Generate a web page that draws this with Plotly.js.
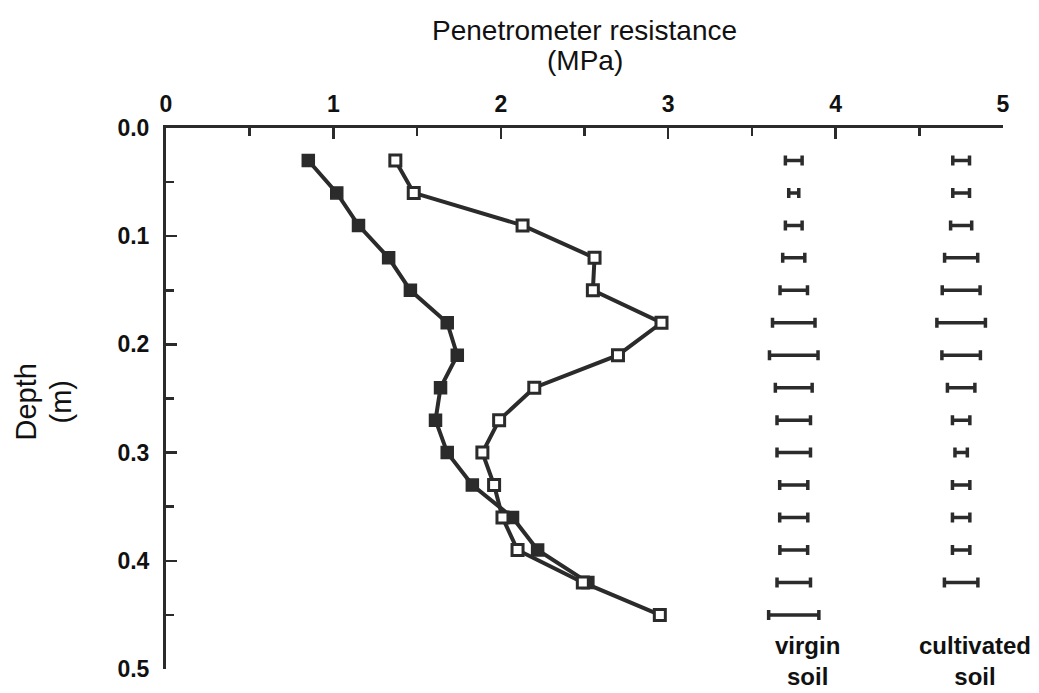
<!DOCTYPE html>
<html>
<head>
<meta charset="utf-8">
<script src="https://cdn.plot.ly/plotly-3.0.1.min.js"></script>
<style>html,body{margin:0;padding:0;background:#fff;}#chart{width:1039px;height:693px;}</style>
</head>
<body>
<div id="chart"></div>
<script>
// Depth (m)
const depthVirgin = [0.03,0.06,0.09,0.12,0.15,0.18,0.21,0.24,0.27,0.30,0.33,0.36,0.39,0.42,0.45];
const depthCultivated = [0.03,0.06,0.09,0.12,0.15,0.18,0.21,0.24,0.27,0.30,0.33,0.36,0.39,0.42];
// Penetrometer resistance (MPa)
const resistanceVirgin = [1.37,1.48,2.13,2.56,2.55,2.96,2.70,2.20,1.99,1.89,1.96,2.01,2.10,2.49,2.95];
const resistanceCultivated = [0.85,1.02,1.15,1.33,1.46,1.68,1.74,1.64,1.61,1.68,1.83,2.07,2.22,2.52];
// Error bar half-widths (MPa)
const errVirgin = [0.05,0.03,0.05,0.066,0.082,0.127,0.145,0.11,0.10,0.10,0.084,0.084,0.083,0.10,0.15];
const errCultivated = [0.05,0.05,0.063,0.099,0.113,0.145,0.115,0.082,0.052,0.037,0.052,0.052,0.052,0.10];
const xTickVals = [0,1,2,3,4,5];
const yTickVals = [0.0,0.1,0.2,0.3,0.4,0.5];
const yTickText = ['0.0','0.1','0.2','0.3','0.4','0.5'];
const errLabels = ['virgin<br>soil','cultivated<br>soil'];
const xTitleLines = ['Penetrometer resistance','(MPa)'];
const yTitleLines = ['Depth','(m)'];
const errColumnX = [3.75, 4.75];

const ink = '#2b2b2b';
const font = 'Liberation Sans, Arial, Helvetica, sans-serif';

const traces = [
  {x: resistanceCultivated, y: depthCultivated, mode: 'lines+markers', type: 'scatter',
   line: {color: ink, width: 4},
   marker: {symbol: 'square', size: 12, color: ink, line: {color: ink, width: 1.5}}},
  {x: resistanceVirgin, y: depthVirgin, mode: 'lines+markers', type: 'scatter',
   line: {color: ink, width: 4},
   marker: {symbol: 'square', size: 11, color: '#fff', line: {color: ink, width: 3}}},
  {x: depthVirgin.map(() => errColumnX[0]), y: depthVirgin, mode: 'markers', type: 'scatter',
   marker: {size: 0, opacity: 0},
   error_x: {type: 'data', array: errVirgin, symmetric: true, color: ink, thickness: 3.5, width: 5}},
  {x: depthCultivated.map(() => errColumnX[1]), y: depthCultivated, mode: 'markers', type: 'scatter',
   marker: {size: 0, opacity: 0},
   error_x: {type: 'data', array: errCultivated, symmetric: true, color: ink, thickness: 3.5, width: 5}}
];

const tickFont = {size: 23, family: font, weight: 'bold', color: '#111'};
const titleFont = {size: 28, family: font, color: '#111'};

const annotations = [];
errLabels.forEach((t, i) => annotations.push({
  x: errColumnX[i] + 0.08, y: 0.5, xref: 'x', yref: 'y', yanchor: 'top', xanchor: 'center',
  text: t, showarrow: false, yshift: 39,
  font: {size: 24, family: font, weight: 'bold', color: '#111'}
}));
xTitleLines.forEach((t, i) => annotations.push({
  x: 0.5, y: 1, xref: 'paper', yref: 'paper', xanchor: 'center', yanchor: 'middle',
  text: t, showarrow: false, yshift: 98 - 30 * i, font: titleFont
}));
yTitleLines.forEach((t, i) => annotations.push({
  x: 0, y: 0.5, xref: 'paper', yref: 'paper', xanchor: 'center', yanchor: 'middle',
  text: t, showarrow: false, textangle: -90, xshift: -141 + 35 * i, yshift: -4, font: {size: 29, family: font, color: '#111'}
}));

const layout = {
  width: 1039, height: 693,
  margin: {l: 166, r: 36, t: 128, b: 24},
  paper_bgcolor: '#fff', plot_bgcolor: '#fff',
  showlegend: false,
  font: {family: font, color: '#111'},
  xaxis: {
    side: 'top', range: [0, 5], tickvals: xTickVals, ticktext: xTickVals.map(String),
    showgrid: false, zeroline: false, showline: true, linecolor: ink, linewidth: 3,
    ticks: 'inside', ticklen: 11, tickwidth: 2.5, tickcolor: ink,
    minor: {dtick: 0.5, ticks: 'inside', ticklen: 8, tickwidth: 2.5, tickcolor: ink},
    tickfont: tickFont, ticklabelstandoff: 4,
    automargin: false
  },
  yaxis: {
    range: [0.5, 0], tickvals: yTickVals, ticktext: yTickText,
    showgrid: false, zeroline: false, showline: true, linecolor: ink, linewidth: 3,
    ticks: 'inside', ticklen: 11, tickwidth: 2.5, tickcolor: ink,
    minor: {dtick: 0.05, ticks: 'inside', ticklen: 8, tickwidth: 2.5, tickcolor: ink},
    tickfont: tickFont, ticklabelstandoff: 9,
    automargin: false
  },
  annotations: annotations
};

Plotly.newPlot('chart', traces, layout, {displayModeBar: false, staticPlot: true});
</script>
</body>
</html>
